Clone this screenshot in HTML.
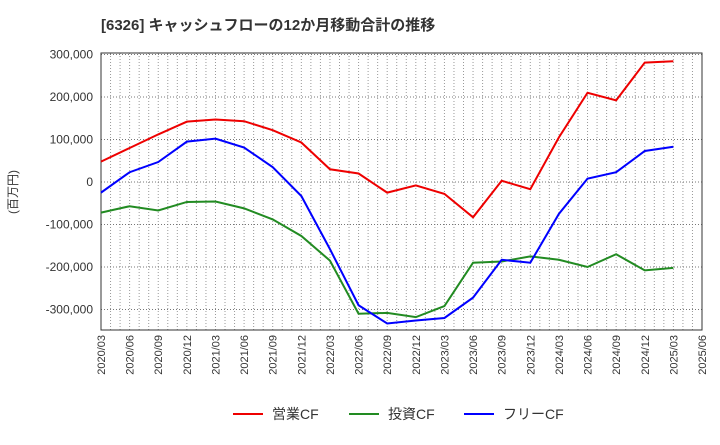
<!DOCTYPE html>
<html><head><meta charset="utf-8"><style>
body{margin:0;background:#fff;font-family:"Liberation Sans","Noto Sans CJK JP",sans-serif;}
</style></head><body>
<svg id="c" width="720" height="440" xmlns="http://www.w3.org/2000/svg">
<text x="101" y="30" font-size="15" font-weight="bold" fill="#333">[6326]  キャッシュフローの12か月移動合計の推移</text>
<text transform="translate(17,192) rotate(-90)" font-size="12" fill="#333" text-anchor="middle">(百万円)</text>
<g id="grid"></g><g id="axes"></g><g id="series"></g>
<g>
<line x1="233" y1="414" x2="263" y2="414" stroke="#e00" stroke-width="2"/>
<text x="272" y="419" font-size="14" fill="#333">営業CF</text>
<line x1="349" y1="414" x2="379" y2="414" stroke="#228b22" stroke-width="2"/>
<text x="388" y="419" font-size="14" fill="#333">投資CF</text>
<line x1="464" y1="414" x2="494" y2="414" stroke="#00f" stroke-width="2"/>
<text x="503" y="419" font-size="14" fill="#333">フリーCF</text>
</g>
</svg>
<script>
const categories=["2020/03","2020/06","2020/09","2020/12","2021/03","2021/06","2021/09","2021/12","2022/03","2022/06","2022/09","2022/12","2023/03","2023/06","2023/09","2023/12","2024/03","2024/06","2024/09","2024/12","2025/03","2025/06"];
const yTicks=[300000,200000,100000,0,-100000,-200000,-300000];
const operatingCF=[48000,80000,112000,142000,147000,143000,122000,93000,30000,20000,-25000,-8000,-28000,-83000,3000,-17000,105000,210000,192000,281000,284000];
const investingCF=[-72000,-57000,-67000,-47000,-46000,-62000,-88000,-127000,-185000,-310000,-308000,-318000,-292000,-190000,-187000,-175000,-183000,-200000,-170000,-208000,-202000];
const freeCF=[-25000,23000,47000,95000,102000,81000,35000,-33000,-158000,-290000,-333000,-326000,-320000,-272000,-183000,-190000,-75000,8000,23000,73000,83000];
const NS="http://www.w3.org/2000/svg";
const L=101,R=702,T=53,B=330;
const x=i=>L+i*(R-L)/21;
const y=v=>182-v*42.5/100000;
function mk(t,a,p){const e=document.createElementNS(NS,t);for(const k in a)e.setAttribute(k,a[k]);p.appendChild(e);return e;}
const g=document.getElementById('grid'),ax=document.getElementById('axes'),s=document.getElementById('series');
for(let m=1;m<63;m++){const xx=L+m*(R-L)/63;
const ln=mk('line',{x1:xx,x2:xx,y1:T,y2:B,stroke:'#999','stroke-dasharray':'1,2','stroke-width':1},g);

}
yTicks.forEach(v=>{const ln=mk('line',{x1:L,x2:R,y1:y(v),y2:y(v),stroke:'#777','stroke-dasharray':'1,2'},g);


const t=mk('text',{x:L-8,y:y(v)+4,'font-size':12,fill:'#333','text-anchor':'end'},ax);t.textContent=v.toLocaleString('en-US');

});
const fr=mk('rect',{x:L,y:T,width:R-L,height:B-T,fill:'none',stroke:'#333'},ax);


categories.forEach((c,i)=>{const t=mk('text',{transform:`translate(${x(i)+4},${B+5}) rotate(-90)`,'font-size':11,fill:'#333','text-anchor':'end'},ax);t.textContent=c;

});
[[operatingCF,'#e00','operating-cf-line'],[investingCF,'#228b22','investing-cf-line'],[freeCF,'#00f','free-cf-line']].forEach(([d,col,n])=>{
const p=mk('polyline',{points:d.map((v,i)=>x(i)+','+y(v)).join(' '),fill:'none',stroke:col,'stroke-width':2},s);

});
</script>
</body></html>
